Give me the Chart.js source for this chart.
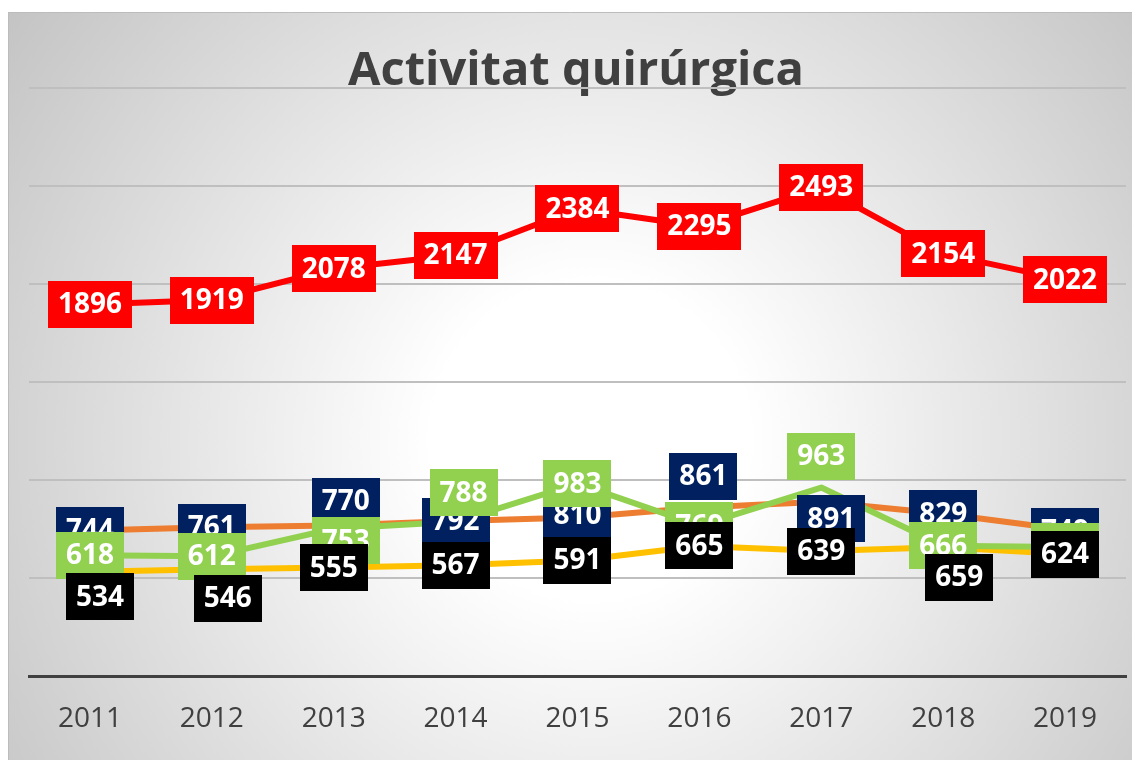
<!DOCTYPE html>
<html>
<head>
<meta charset="utf-8">
<title>Activitat quirúrgica</title>
<script src="https://cdn.jsdelivr.net/npm/chart.js@4/dist/chart.umd.min.js"></script>
<style>
 html, body { margin: 0; padding: 0; background: #ffffff; }
 #chart { display: block; }
</style>
</head>
<body>
<canvas id="chart" width="1132" height="760"></canvas>
<script>
var years = ["2011", "2012", "2013", "2014", "2015", "2016", "2017", "2018", "2019"];

// values (labels that are hidden are estimated)
var redSeries = [1896, 1919, 2078, 2147, 2384, 2295, 2493, 2154, 2022];
var orangeSeries = [744, 761, 770, 792, 810, 861, 891, 829, 749];
var greenSeries = [618, 612, 753, 788, 983, 769, 963, 666, 660];
var yellowSeries = [534, 546, 555, 567, 591, 665, 639, 659, 624];

var yTicks = [0, 500, 1000, 1500, 2000, 2500, 3000];

// where each data label sits relative to its point (px)
var redLabelDx = [0, 0, 0, 0, 0, 0, 0, 0, 0];
var redLabelDy = [0, 0, 0, 0, 0, 0, 0, 0, 0];
var orangeLabelDx = [0, 0, 12, 0, 0, 4, 10, 0, 0];
var orangeLabelDy = [0, 0, -24, 0, -3, -31, 17, 0, 2];
var greenLabelDx = [0, 0, 12, 8, 0, 0, 0, 0, 0];
var greenLabelDy = [0, 0, 12, -29, 0, 0, -31, 0, 0];
var yellowLabelDx = [10, 16, 0, 0, 0, 0, 0, 16, 0];
var yellowLabelDy = [25, 29, 0, 0, 0, 0, 0, 30, 0];

var labelFont = "bold 28px 'Open Sans'";

var backgroundPlugin = {
 id: "background",
 beforeDraw: function (chart) {
  var ctx = chart.ctx;
  ctx.save();
  ctx.fillStyle = "#ffffff";
  ctx.fillRect(0, 0, chart.width, chart.height);
  var grad = ctx.createRadialGradient(590, 440, 0, 590, 440, 720);
  grad.addColorStop(0, "#ffffff");
  grad.addColorStop(0.22, "#ffffff");
  grad.addColorStop(1, "#c4c4c4");
  ctx.fillStyle = grad;
  ctx.fillRect(8, 12, chart.width - 8, chart.height - 12);
  ctx.strokeStyle = "#bcbcbc";
  ctx.lineWidth = 1;
  ctx.beginPath();
  ctx.moveTo(8.5, chart.height);
  ctx.lineTo(8.5, 12.5);
  ctx.lineTo(chart.width, 12.5);
  ctx.stroke();

  ctx.fillStyle = "#404040";
  ctx.font = "bold 47px 'Open Sans'";
  ctx.textAlign = "center";
  ctx.textBaseline = "alphabetic";
  ctx.fillText("Activitat quirúrgica", 576, 85);
  ctx.restore();
 },
};

var labelsPlugin = {
 id: "boxLabels",
 afterDatasetsDraw: function (chart) {
  var ctx = chart.ctx;
  var groups = [
   { index: 0, fill: "#FF0000", dx: redLabelDx, dy: redLabelDy },
   { index: 1, fill: "#002060", dx: orangeLabelDx, dy: orangeLabelDy },
   { index: 2, fill: "#92D050", dx: greenLabelDx, dy: greenLabelDy },
   { index: 3, fill: "#000000", dx: yellowLabelDx, dy: yellowLabelDy },
  ];
  ctx.save();
  ctx.font = labelFont;
  ctx.textAlign = "center";
  ctx.textBaseline = "middle";
  groups.forEach(function (g) {
   var meta = chart.getDatasetMeta(g.index);
   var values = chart.data.datasets[g.index].data;
   meta.data.forEach(function (pt, i) {
    var text = String(values[i]);
    var w = ctx.measureText(text).width + 20;
    var h = 47;
    var cx = pt.x + g.dx[i];
    var cy = pt.y + g.dy[i];
    ctx.fillStyle = g.fill;
    ctx.fillRect(Math.round(cx - w / 2), Math.round(cy - h / 2), Math.round(w), h);
    ctx.fillStyle = "#ffffff";
    ctx.fillText(text, cx, cy + 1);
   });
  });
  ctx.restore();
 },
};

function drawChart() {
 var ctx = document.getElementById("chart");

 new Chart(ctx, {
  type: "line",
  data: {
   labels: years,
   datasets: [
    {
     label: "red",
     data: redSeries,
     borderColor: "#FF0000",
     order: 0,
    },
    {
     label: "orange",
     data: orangeSeries,
     borderColor: "#ED7D31",
     order: 3,
    },
    {
     label: "green",
     data: greenSeries,
     borderColor: "#92D050",
     order: 1,
    },
    {
     label: "yellow",
     data: yellowSeries,
     borderColor: "#FFC000",
     order: 2,
    },
   ],
  },
  options: {
   responsive: false,
   animation: false,
   devicePixelRatio: 1,
   layout: {
    padding: { left: 29, right: 6, top: 88, bottom: -2 },
   },
   elements: {
    line: {
     borderWidth: 6,
     tension: 0,
     fill: false,
     borderJoinStyle: "round",
     borderCapStyle: "round",
    },
    point: { radius: 0, hoverRadius: 0 },
   },
   plugins: {
    legend: { display: false },
    title: { display: false },
    tooltip: { enabled: false },
   },
   scales: {
    x: {
     offset: true,
     grid: { display: false, drawTicks: false },
     border: { display: true, color: "#404040", width: 3 },
     ticks: {
      color: "#404040",
      font: { family: "'Open Sans'", size: 28 },
      padding: 26,
      maxRotation: 0,
     },
    },
    y: {
     min: yTicks[0],
     max: yTicks[yTicks.length - 1],
     afterBuildTicks: function (axis) {
      axis.ticks = yTicks.map(function (v) {
       return { value: v };
      });
     },
     grid: {
      drawTicks: false,
      lineWidth: 2,
      color: function (c) {
       return c.tick && c.tick.value === 0 ? "rgba(0,0,0,0)" : "#bfbfbf";
      },
     },
     border: { display: false },
     ticks: { display: false },
    },
   },
  },
  plugins: [backgroundPlugin, labelsPlugin],
 });
}

if (document.fonts && document.fonts.load) {
 Promise.all([
  document.fonts.load("bold 47px 'Open Sans'"),
  document.fonts.load("28px 'Open Sans'"),
 ]).then(drawChart, drawChart);
} else {
 drawChart();
}
</script>
</body>
</html>
